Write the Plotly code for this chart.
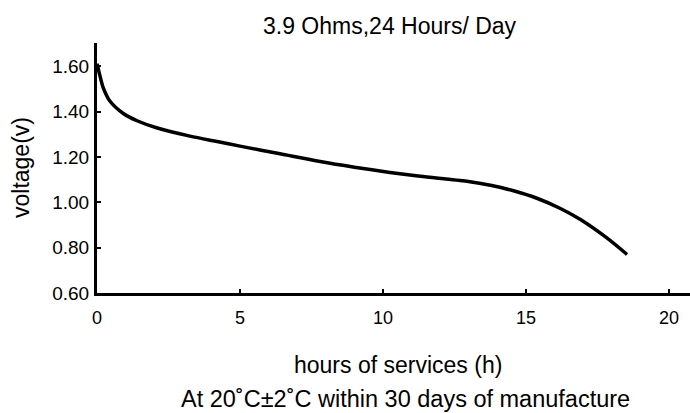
import plotly.graph_objects as go

hours = [0, 0.1, 0.22, 0.45, 0.92, 1.4, 2.08, 3.25, 4.2, 5.0, 6.4, 7.8, 9.0, 10.24, 11.3, 12.93, 13.8, 14.56, 15.4, 16.2, 16.9, 17.8, 18.53]
voltage = [1.612, 1.56, 1.505, 1.447, 1.392, 1.36, 1.329, 1.292, 1.268, 1.248, 1.214, 1.18, 1.155, 1.132, 1.115, 1.093, 1.074, 1.051, 1.017, 0.973, 0.924, 0.845, 0.77]

x_ticks = [0, 5, 10, 15, 20]
y_ticks = [0.6, 0.8, 1.0, 1.2, 1.4, 1.6]
y_tick_labels = ["0.60", "0.80", "1.00", "1.20", "1.40", "1.60"]

title_text = "3.9 Ohms,24 Hours/ Day"
x_title = "hours of services (h)"
x_subtitle = "At 20˚C±2˚C within 30 days of manufacture"
y_title = "voltage(v)"

FONT = "Liberation Sans, Arial, Helvetica, sans-serif"

fig = go.Figure()
fig.add_trace(go.Scatter(
    x=hours, y=voltage, mode="lines",
    line=dict(color="black", width=3.5, shape="spline", smoothing=0.8),
    showlegend=False, hoverinfo="skip",
))

fig.update_layout(
    width=690, height=413,
    margin=dict(l=97, r=0, t=43, b=120),
    paper_bgcolor="white", plot_bgcolor="white",
    font=dict(family=FONT, color="black"),
    xaxis=dict(
        range=[0, 20.73], tickvals=x_ticks, ticks="inside", ticklen=4, tickwidth=2,
        tickcolor="black", showline=True, linecolor="black", linewidth=3,
        showgrid=False, zeroline=False, tickfont=dict(size=18, family=FONT),
        ticklabelstandoff=6,
    ),
    yaxis=dict(
        range=[0.6, 1.703], tickvals=y_ticks, ticktext=y_tick_labels, ticks="inside",
        ticklen=4, tickwidth=2, tickcolor="black", showline=True, linecolor="black",
        linewidth=3, showgrid=False, zeroline=False, tickfont=dict(size=19, family=FONT),
        ticklabelstandoff=1,
    ),
    annotations=[
        dict(text=title_text, xref="paper", yref="paper", x=0.494, y=1, yshift=17,
             xanchor="center", yanchor="middle", showarrow=False, font=dict(size=23, family=FONT)),
        dict(text=x_title, xref="paper", yref="paper", x=0.508, y=0, yshift=-72,
             xanchor="center", yanchor="middle", showarrow=False, font=dict(size=23, family=FONT)),
        dict(text=x_subtitle, xref="paper", yref="paper", x=0.52, y=0, yshift=-106,
             xanchor="center", yanchor="middle", showarrow=False, font=dict(size=23.5, family=FONT)),
        dict(text=y_title, xref="paper", yref="paper", x=0, y=0.5, xshift=-76, textangle=-90,
             xanchor="center", yanchor="middle", showarrow=False, font=dict(size=23, family=FONT)),
    ],
)

fig.write_html("out.html", config={"displayModeBar": False},
               post_script="document.body.style.margin='0px';")
